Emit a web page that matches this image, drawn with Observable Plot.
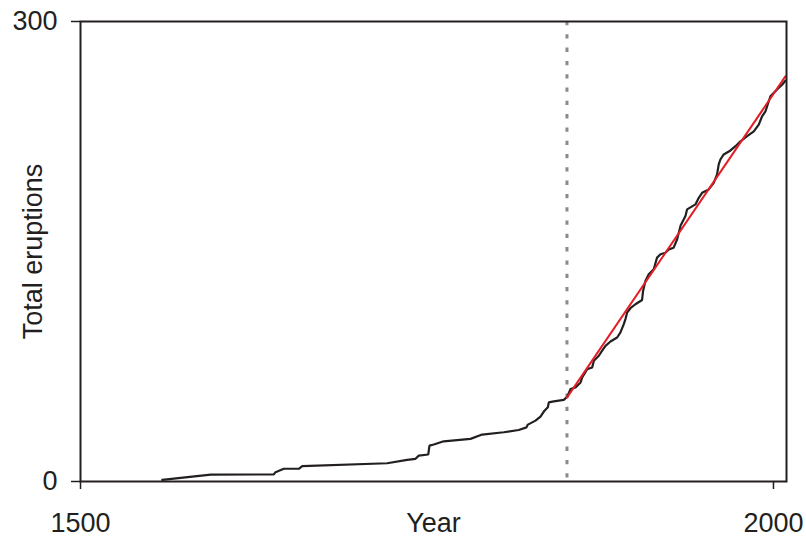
<!DOCTYPE html>
<html>
<head>
<meta charset="utf-8">
<script src="https://cdn.jsdelivr.net/npm/d3@7"></script>
<script src="https://cdn.jsdelivr.net/npm/@observablehq/plot@0.6"></script>
<style>
  html, body { margin: 0; padding: 0; background: #fff; }
</style>
</head>
<body>
<div id="chart"></div>
<script>
const years = [1559, 1594, 1639.5, 1640.7, 1646.7, 1657.5, 1660, 1721.3, 1735.7, 1741.7,
  1744.1, 1750.9, 1751.8, 1754.9, 1762.1, 1781.4, 1789.8, 1805.4, 1816.2, 1821.8,
  1822.8, 1828.3, 1831.9, 1834.8, 1837.2, 1837.9, 1841.5, 1848.7, 1851.2, 1853.6,
  1857.2, 1860.8, 1862, 1865.6, 1869.2, 1870.4, 1874, 1876.4, 1878.8, 1882.4,
  1887.2, 1889.6, 1892, 1893.2, 1894.4, 1896.8, 1900.4, 1905.2, 1905.9, 1907.6,
  1910, 1913.6, 1916, 1918.5, 1922, 1924.5, 1928, 1930.5, 1933, 1936.5,
  1937.7, 1943.7, 1946.1, 1948.5, 1953.3, 1956.9, 1959.3, 1960.5, 1961.7, 1964.1,
  1969, 1972.6, 1976.2, 1981, 1985.8, 1989.4, 1991.8, 1994.2, 1996.6, 1997.8,
  2002.6, 2006.2, 2008.6];
const totals = [1, 4.5, 4.6, 6.1, 8.3, 8.3, 10, 11.9, 14.1, 14.8,
  16.9, 17.6, 23.4, 24.1, 26.2, 27.8, 30.6, 32.1, 33.6, 35.3,
  37.1, 39.7, 42.3, 46.2, 48.4, 51.6, 52.3, 53.2, 55.3, 60.3,
  61.4, 64.6, 67.9, 73.3, 74.4, 78.7, 82, 85.3, 88.5, 91.3,
  93.9, 97.2, 102.6, 105.9, 110.2, 113, 115.6, 118.4, 124.3, 130.8,
  135.2, 138.4, 146, 148.2, 149.2, 151.4, 152.5, 158, 167, 173.1,
  177.5, 180.7, 185, 188.3, 190.5, 194.8, 200.3, 206.8, 210, 213.3,
  215.9, 218.7, 221.9, 225.2, 228.4, 232.8, 238.2, 241.4, 248, 251.2,
  255.6, 258.8, 261.4];

const fitYears = [1851, 2008.6];
const fitTotals = [54.7, 264.2];
const breakYear = [1851];

const xTicks = [1500, 2000];
const yTicks = [0, 300];
const xLabel = "Year";
const yLabel = "Total eruptions";

const series = years.map((y, i) => ({year: y, total: totals[i]}));
const fit = fitYears.map((y, i) => ({year: y, total: fitTotals[i]}));

const ink = "#231f20";

const chart = Plot.plot({
  width: 806,
  height: 541,
  marginLeft: 80,
  marginRight: 20,
  marginTop: 21,
  marginBottom: 60,
  style: {fontFamily: "'Liberation Sans', Arial, sans-serif", fontSize: "27px", color: ink, background: "#fff"},
  x: {domain: [1500, 2009.4]},
  y: {domain: [0, 300]},
  marks: [
    Plot.ruleX(breakYear, {stroke: "#8a8a8a", strokeWidth: 3, strokeDasharray: "4.3,9"}),
    Plot.line(series, {x: "year", y: "total", stroke: ink, strokeWidth: 2.2, curve: "linear", strokeLinejoin: "miter"}),
    Plot.line(fit, {x: "year", y: "total", stroke: "#e41e26", strokeWidth: 2, curve: "linear"}),
    Plot.frame({stroke: ink, strokeWidth: 2}),
    Plot.axisX({ticks: xTicks, tickFormat: d => String(d), tickSize: 8, tickPadding: 23, strokeWidth: 1.5, label: null}),
    Plot.axisY({ticks: yTicks, tickFormat: d => String(d), tickSize: 9, tickPadding: 14, strokeWidth: 1.5, label: null}),
    Plot.text([xLabel], {text: d => d, frameAnchor: "bottom", dy: 42, lineAnchor: "middle", textAnchor: "middle", fill: ink, fontSize: 27}),
    Plot.text([yLabel], {text: d => d, frameAnchor: "left", dx: -47, rotate: -90, textAnchor: "middle", lineAnchor: "middle", fill: ink, fontSize: 27})
  ]
});
document.getElementById("chart").appendChild(chart);
</script>
</body>
</html>
